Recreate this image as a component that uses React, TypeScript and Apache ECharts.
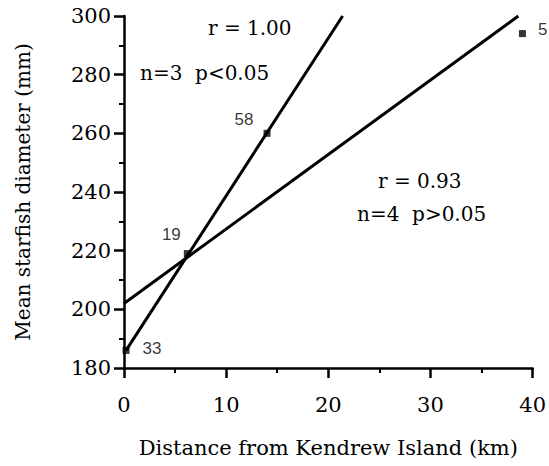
import React, { useEffect, useRef } from "react";
import * as echarts from "echarts";

const distances = [0.2, 6.2, 14.0, 39.0];
const diameters = [186, 219, 260, 294];
const pointLabels = ["33", "19", "58", "5"];

const line1X = [0.2, 21.4];
const line1Y = [186, 300];
const line2X = [0, 38.6];
const line2Y = [202, 300];

const xTicks = [0, 10, 20, 30, 40];
const yTicks = [180, 200, 220, 240, 260, 280, 300];

const serif = "DejaVu Serif";
const sans = "Liberation Sans";

export default function App() {
  const ref = useRef<HTMLDivElement>(null);
  useEffect(() => {
    if (!ref.current) return;
    const chart = echarts.init(ref.current, null, { renderer: "svg" });
    const labelPos: any[] = [
      { position: "right", distance: 13, offset: [0, -2] },
      { position: "left", distance: 3, offset: [0, -19] },
      { position: "left", distance: 10, offset: [0, -14] },
      { position: "right", distance: 12, offset: [0, -4] },
    ];
    chart.setOption({
      animation: false,
      backgroundColor: "#ffffff",
      grid: { left: 124, right: 14, top: 16, bottom: 98 },
      xAxis: {
        type: "value",
        min: xTicks[0],
        max: xTicks[xTicks.length - 1],
        interval: 10,
        name: "Distance from Kendrew Island (km)",
        nameLocation: "middle",
        nameGap: 69,
        nameTextStyle: { fontFamily: serif, fontSize: 21, color: "#000" },
        axisLine: { onZero: false, lineStyle: { color: "#000", width: 2.5 } },
        axisTick: { length: 10, lineStyle: { color: "#000", width: 2.5 } },
        minorTick: { show: true, splitNumber: 2, length: 5, lineStyle: { color: "#000", width: 2 } },
        axisLabel: { fontFamily: serif, fontSize: 21, color: "#000", margin: 26 },
        splitLine: { show: false },
      },
      yAxis: {
        type: "value",
        min: yTicks[0],
        max: yTicks[yTicks.length - 1],
        interval: 20,
        name: "Mean starfish diameter (mm)",
        nameLocation: "middle",
        nameGap: 91,
        nameTextStyle: { fontFamily: serif, fontSize: 20, color: "#000" },
        axisLine: { onZero: false, lineStyle: { color: "#000", width: 2.5 } },
        axisTick: { length: 10, lineStyle: { color: "#000", width: 2.5 } },
        minorTick: { show: true, splitNumber: 2, length: 5, lineStyle: { color: "#000", width: 2 } },
        axisLabel: { fontFamily: serif, fontSize: 21, color: "#000", margin: 13 },
        splitLine: { show: false },
      },
      series: [
        {
          type: "line",
          data: line1X.map((x, i) => [x, line1Y[i]]),
          symbol: "none",
          lineStyle: { color: "#000", width: 3 },
          clip: true,
        },
        {
          type: "line",
          data: line2X.map((x, i) => [x, line2Y[i]]),
          symbol: "none",
          lineStyle: { color: "#000", width: 3 },
          clip: true,
        },
        {
          type: "scatter",
          symbol: "rect",
          symbolSize: 7,
          itemStyle: { color: "#000" },
          clip: false,
          data: distances.map((x, i) => ({
            value: [x, diameters[i]],
            label: {
              show: true,
              formatter: pointLabels[i],
              fontFamily: sans,
              fontSize: 17,
              color: "#000",
              ...labelPos[i],
            },
          })),
        },
      ],
      graphic: [
        { type: "text", left: 208, top: 18, style: { text: "r = 1.00", font: `20px '${serif}'`, fill: "#000" } },
        { type: "text", left: 140, top: 63, style: { text: "n=3  p<0.05", font: `20px '${serif}'`, fill: "#000" } },
        { type: "text", left: 378, top: 171, style: { text: "r = 0.93", font: `20px '${serif}'`, fill: "#000" } },
        { type: "text", left: 357, top: 204, style: { text: "n=4  p>0.05", font: `20px '${serif}'`, fill: "#000" } },
      ],
    });
    return () => chart.dispose();
  }, []);
  return <div ref={ref} style={{ width: 549, height: 466, position: "absolute", left: 0, top: 0 }} />;
}
